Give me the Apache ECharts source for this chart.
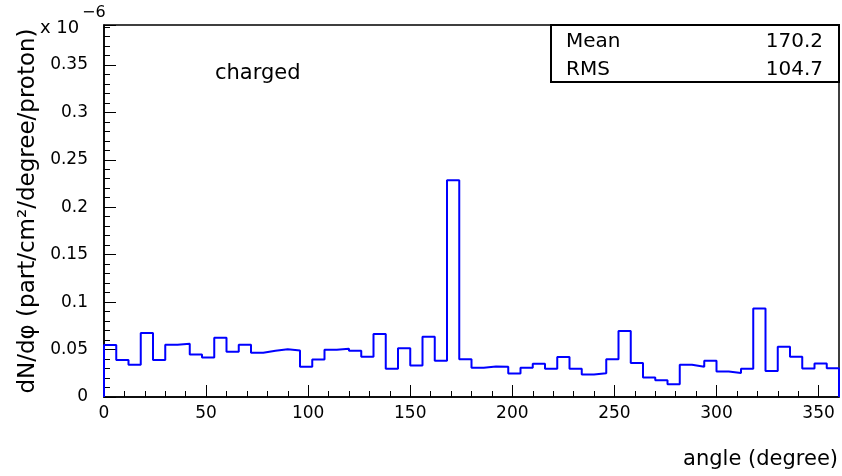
<!DOCTYPE html>
<html>
<head>
<meta charset="utf-8">
<script src="https://cdn.jsdelivr.net/npm/echarts@6/dist/echarts.min.js"></script>
<style>html,body{margin:0;padding:0;background:#fff;}#c{width:842px;height:476px;}</style>
</head>
<body>
<div id="c"></div>
<script>
// histogram: 60 bins of 6 degrees, values in units of 1e-6
const binWidth = 6;
const binStart = 0;
const values = [0.0548, 0.0389, 0.0339, 0.0675, 0.0389, 0.0551, 0.0562, 0.0449, 0.0417, 0.0625,
  0.0477, 0.0551, 0.0466, 0.0487, 0.0502, 0.0491, 0.0318, 0.0396, 0.0498, 0.0509,
  0.0487, 0.0424, 0.0664, 0.0297, 0.0513, 0.0333, 0.0636, 0.0381, 0.2285, 0.0399,
  0.0307, 0.0322, 0.0318, 0.0247, 0.0307, 0.0350, 0.0297, 0.0421, 0.0297, 0.0237,
  0.0251, 0.0399, 0.0696, 0.0357, 0.0205, 0.0177, 0.0134, 0.0339, 0.0318, 0.0381,
  0.0269, 0.0254, 0.0297, 0.0932, 0.0275, 0.0530, 0.0424, 0.0301, 0.0354, 0.0304];
const statLabels = ['Mean', 'RMS'];
const statValues = ['170.2', '104.7'];
const histLabel = 'charged';
const xTitle = 'angle (degree)';
const yTitle = 'dN/d\u03C6 (part/cm\u00B2/degree/proton)';

const pts = [[binStart, 0]];
values.forEach((v, i) => {
  pts.push([binStart + i * binWidth, v]);
  pts.push([binStart + (i + 1) * binWidth, v]);
});
pts.push([binStart + values.length * binWidth, 0]);

const FONT = 'DejaVu Sans';
const chart = echarts.init(document.getElementById('c'), null, {renderer: 'canvas'});
chart.setOption({
  animation: false,
  backgroundColor: '#fff',
  grid: {left: 104, right: 3, top: 25, bottom: 79, show: true, borderColor: '#000', borderWidth: 1.5, backgroundColor: 'transparent'},
  xAxis: {
    type: 'value', min: 0, max: 360, interval: 50,
    axisLine: {lineStyle: {color: '#000', width: 1.5}},
    axisTick: {inside: true, length: 12, lineStyle: {color: '#000'}},
    minorTick: {show: true, splitNumber: 5, length: 6, lineStyle: {color: '#000'}},
    splitLine: {show: false},
    axisLabel: {color: '#000', fontFamily: FONT, fontSize: 17, margin: 8, showMaxLabel: false}
  },
  yAxis: {
    type: 'value', min: 0, max: 0.392, interval: 0.05,
    axisLine: {show: true, lineStyle: {color: '#000', width: 1.5}},
    axisTick: {show: true, inside: true, length: 12, lineStyle: {color: '#000'}},
    minorTick: {show: true, splitNumber: 5, length: 6, lineStyle: {color: '#000'}},
    splitLine: {show: false},
    axisLabel: {color: '#000', fontFamily: FONT, fontSize: 17, margin: 16, showMaxLabel: false},
    name: yTitle, nameLocation: 'middle', nameRotate: 90, nameGap: 62,
    nameTextStyle: {color: '#000', fontFamily: FONT, fontSize: 23}
  },
  series: [{
    type: 'line', data: pts, showSymbol: false, symbol: 'none',
    lineStyle: {color: '#0000ff', width: 2}, z: 5, clip: false
  }],
  graphic: [
    {type: 'text', x: 40, y: 19, style: {text: 'x 10', font: '18px "DejaVu Sans"', fill: '#000'}},
    {type: 'text', x: 82, y: 5, style: {text: '\u22126', font: '16px "DejaVu Sans"', fill: '#000'}},
    {type: 'text', x: 215, y: 63, style: {text: histLabel, font: '21px "DejaVu Sans"', fill: '#000'}},
    {type: 'text', x: 838, y: 449, style: {text: xTitle, font: '21px "DejaVu Sans"', fill: '#000', align: 'right'}},
    {type: 'rect', z: 10, shape: {x: 551, y: 25, width: 288, height: 57}, style: {fill: '#fff', stroke: '#000', lineWidth: 2}},
    {type: 'text', z: 11, x: 566, y: 32, style: {text: statLabels[0], font: '20px "DejaVu Sans"', fill: '#000'}},
    {type: 'text', z: 11, x: 566, y: 60, style: {text: statLabels[1], font: '20px "DejaVu Sans"', fill: '#000'}},
    {type: 'text', z: 11, x: 823, y: 32, style: {text: statValues[0], font: '20px "DejaVu Sans"', fill: '#000', align: 'right'}},
    {type: 'text', z: 11, x: 823, y: 60, style: {text: statValues[1], font: '20px "DejaVu Sans"', fill: '#000', align: 'right'}}
  ]
});
</script>
</body>
</html>
